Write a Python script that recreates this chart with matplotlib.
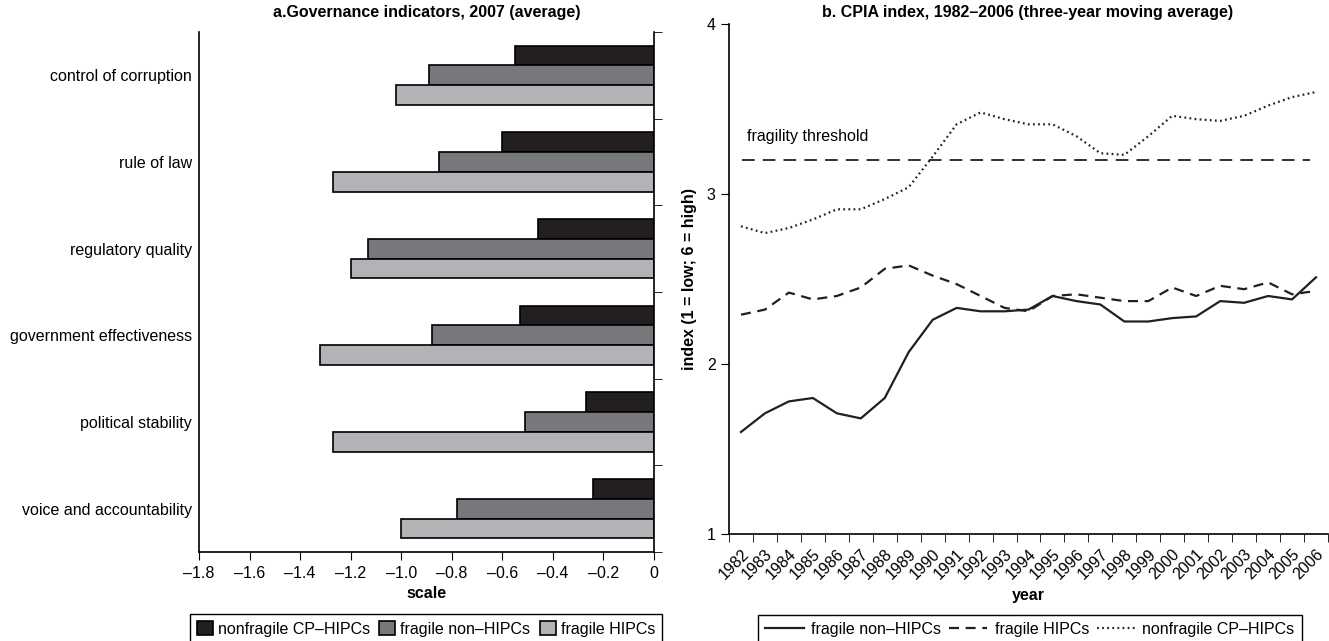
import matplotlib.pyplot as plt
from matplotlib.ticker import FixedLocator
import numpy as np

plt.rcParams["font.family"] = ["Liberation Sans", "DejaVu Sans"]

# panel a: governance indicators (top to bottom)
indicadores = [
    "control of corruption",
    "rule of law",
    "regulatory quality",
    "government effectiveness",
    "political stability",
    "voice and accountability",
]
nonfragile_cp = [-0.55, -0.60, -0.46, -0.53, -0.27, -0.24]
fragile_non_hipc = [-0.89, -0.85, -1.13, -0.88, -0.51, -0.78]
fragile_hipc = [-1.02, -1.27, -1.20, -1.32, -1.27, -1.00]

# panel b: CPIA index
anos = list(range(1982, 2007))
cpia_fragile_non_hipc = [1.60, 1.71, 1.78, 1.80, 1.71, 1.68, 1.80, 2.07, 2.26, 2.33,
                         2.31, 2.31, 2.32, 2.40, 2.37, 2.35, 2.25, 2.25, 2.27, 2.28,
                         2.37, 2.36, 2.40, 2.38, 2.51]
cpia_fragile_hipc = [2.29, 2.32, 2.42, 2.38, 2.40, 2.45, 2.56, 2.58, 2.52, 2.47,
                     2.40, 2.33, 2.31, 2.40, 2.41, 2.39, 2.37, 2.37, 2.45, 2.40,
                     2.46, 2.44, 2.48, 2.41, 2.43]
cpia_nonfragile_cp = [2.81, 2.77, 2.80, 2.85, 2.91, 2.91, 2.97, 3.04, 3.22, 3.41,
                      3.48, 3.44, 3.41, 3.41, 3.34, 3.24, 3.23, 3.34, 3.46, 3.44,
                      3.43, 3.46, 3.52, 3.57, 3.60]
limiar_fragilidade = 3.2

COR_PRETO = "#231f20"
COR_CINZA = "#77787b"
COR_CLARO = "#b1b3b6"
FS = 11.5

fig = plt.figure(figsize=(13.29, 6.41), dpi=100)
W, H = 1329, 641


def caixa(x0, y0, x1, y1):
    return [x0 / W, 1 - y1 / H, (x1 - x0) / W, (y1 - y0) / H]


# ---------- panel a ----------
ax1 = fig.add_axes(caixa(199, 32, 654, 552))
n = len(indicadores)
pos = np.arange(n)[::-1].astype(float)
alt = 0.227
ax1.barh(pos + alt, nonfragile_cp, height=alt, color=COR_PRETO, edgecolor="black", linewidth=1.2,
         label="nonfragile CP\u2013HIPCs")
ax1.barh(pos, fragile_non_hipc, height=alt, color=COR_CINZA, edgecolor="black", linewidth=1.2,
         label="fragile non\u2013HIPCs")
ax1.barh(pos - alt, fragile_hipc, height=alt, color=COR_CLARO, edgecolor="black", linewidth=1.2,
         label="fragile HIPCs")

ax1.set_xlim(-1.8, 0)
ax1.set_ylim(-0.5, n - 0.5)
ticks_x = np.round(np.arange(-1.8, 0.01, 0.2), 1)
ax1.set_xticks(ticks_x)
ax1.set_xticklabels([("%.1f" % t).replace("-", "\u2013") if t != 0 else "0" for t in ticks_x])
ax1.set_yticks(pos)
ax1.set_yticklabels(indicadores)
ax1.yaxis.set_minor_locator(FixedLocator(np.arange(-0.5, n, 1.0)))
ax1.tick_params(axis="y", which="major", length=0, pad=5, labelsize=FS)
ax1.tick_params(axis="y", which="minor", left=False, right=True, direction="out", length=6)
ax1.tick_params(axis="x", direction="out", length=6, labelsize=FS, pad=4)
ax1.spines["top"].set_visible(False)
for s in ["left", "right", "bottom"]:
    ax1.spines[s].set_linewidth(1.2)
ax1.set_xlabel("scale", fontsize=FS, fontweight="bold")
ax1.xaxis.set_label_coords(0.5, -0.066)
fig.text(427 / W, 1 - 13 / H, "a.Governance indicators, 2007 (average)", ha="center", va="center",
         fontsize=11.5, fontweight="bold")

h1, l1 = ax1.get_legend_handles_labels()
leg1 = fig.legend(h1, l1, loc="upper center", bbox_to_anchor=(426 / W, 1 - 609 / H), ncol=3,
                  fontsize=FS, frameon=True, fancybox=False, framealpha=1, edgecolor="black",
                  handlelength=1.0, handleheight=1.0, handletextpad=0.3, columnspacing=0.6,
                  borderpad=0.45, borderaxespad=0.3)
leg1.get_frame().set_linewidth(1.0)

# ---------- panel b ----------
ax2 = fig.add_axes(caixa(729, 24, 1328, 534))
x = np.arange(len(anos))
ax2.plot(x, cpia_fragile_non_hipc, color="#231f20", linewidth=1.6, label="fragile non\u2013HIPCs")
ax2.plot(x, cpia_fragile_hipc, color="#231f20", linewidth=1.6, dashes=(4.5, 3), label="fragile HIPCs")
ax2.plot(x, cpia_nonfragile_cp, color="#231f20", linewidth=1.6, dashes=(0.8, 1.5),
         label="nonfragile CP\u2013HIPCs")
ax2.axhline(limiar_fragilidade, xmin=0.022, xmax=0.97, color="#231f20", linewidth=1.3, dashes=(7, 4.5))
ax2.text(0.25, limiar_fragilidade + 0.14, "fragility threshold", fontsize=FS, va="center")

ax2.set_xlim(-0.5, len(anos) - 0.5)
ax2.set_ylim(1, 4)
ax2.set_yticks([1, 2, 3, 4])
ax2.set_xticks(x)
ax2.set_xticklabels([str(a) for a in anos], rotation=45, ha="right", rotation_mode="anchor")
ax2.xaxis.set_minor_locator(FixedLocator(np.arange(-0.5, len(anos), 1.0)))
ax2.tick_params(axis="x", which="major", length=0, pad=9, labelsize=FS)
ax2.tick_params(axis="x", which="minor", direction="out", length=6)
ax2.tick_params(axis="y", direction="out", length=6, labelsize=FS)
ax2.spines["top"].set_visible(False)
ax2.spines["right"].set_visible(False)
for s in ["left", "bottom"]:
    ax2.spines[s].set_linewidth(1.2)
ax2.set_xlabel("year", fontsize=FS, fontweight="bold")
ax2.xaxis.set_label_coords(0.5, -0.105)
ax2.set_ylabel("index (1 = low; 6 = high)", fontsize=FS, fontweight="bold")
ax2.yaxis.set_label_coords(-0.053, 0.5)
fig.text(1028 / W, 1 - 13 / H, "b. CPIA index, 1982\u20132006 (three-year moving average)", ha="center",
         va="center", fontsize=11.5, fontweight="bold")

h2, l2 = ax2.get_legend_handles_labels()
leg2 = fig.legend(h2, l2, loc="upper center", bbox_to_anchor=(1030 / W, 1 - 610 / H), ncol=3,
                  fontsize=FS, frameon=True, fancybox=False, framealpha=1, edgecolor="black",
                  handlelength=2.4, handletextpad=0.45, columnspacing=0.5, borderpad=0.45,
                  borderaxespad=0.3)
leg2.get_frame().set_linewidth(1.0)

fig.savefig("out.png", dpi=100)
